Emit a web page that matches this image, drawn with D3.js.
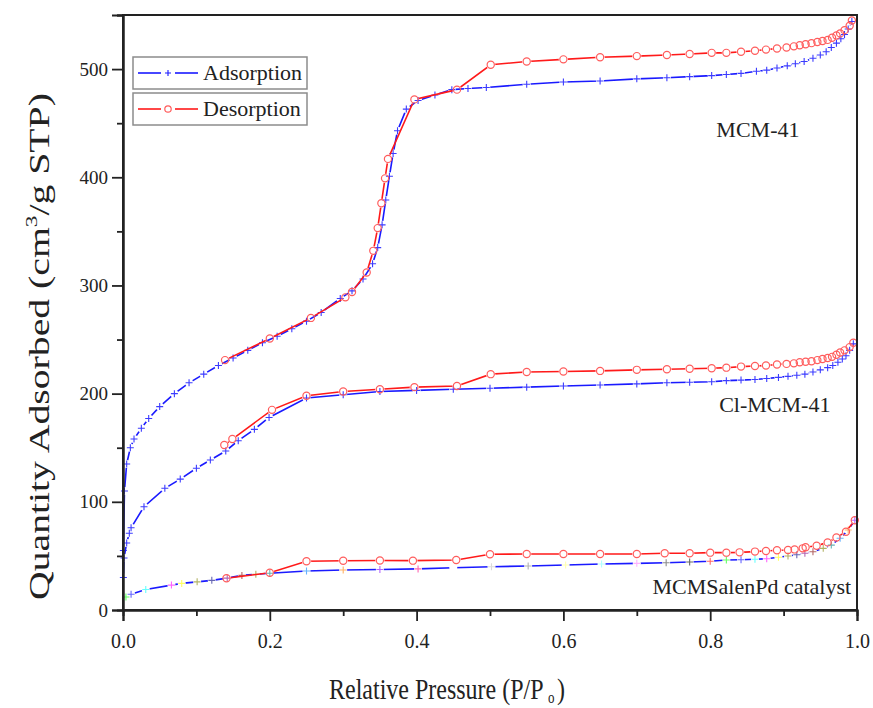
<!DOCTYPE html>
<html>
<head>
<meta charset="utf-8">
<script src="https://cdn.jsdelivr.net/npm/d3@7"></script>
<style>
  body { margin: 0; background: #fff; }
  svg text { font-family: "Liberation Serif", "DejaVu Serif", serif; }
</style>
</head>
<body>
<div id="chart"></div>
<script>
// [P/Po, quantity adsorbed] pairs
const mcmAds = [[0.0005,55],[0.002,110],[0.005,135],[0.01,150],[0.015,158],[0.025,168],[0.035,177],[0.05,188],[0.07,200],[0.09,210],[0.11,218],[0.13,226],[0.15,233],[0.17,240],[0.19,247],[0.21,253],[0.23,260],[0.25,267],[0.27,275],[0.296,288],[0.312,295],[0.327,306],[0.34,320],[0.347,335],[0.353,356],[0.358,379],[0.363,401],[0.368,422],[0.374,443],[0.386,463],[0.402,471],[0.425,476],[0.448,481],[0.47,482],[0.495,483],[0.55,486],[0.60,488],[0.65,489],[0.70,491],[0.741,492],[0.772,493],[0.802,494],[0.822,495],[0.842,496],[0.863,498],[0.877,499],[0.891,501],[0.905,503],[0.916,505],[0.928,507],[0.94,510],[0.95,513],[0.958,516],[0.965,520],[0.972,524],[0.978,528],[0.983,532],[0.988,537],[0.993,544]];
const mcmDes = [[0.993,545],[0.99,540],[0.983,536],[0.977,533],[0.972,531],[0.966,529],[0.96,527],[0.953,526],[0.946,525],[0.938,524],[0.93,523],[0.922,522],[0.914,521],[0.904,520],[0.891,519],[0.876,518],[0.861,517],[0.842,516],[0.822,515],[0.802,515],[0.772,514],[0.741,513],[0.70,512],[0.65,511],[0.60,509],[0.55,507],[0.501,504],[0.455,481],[0.397,472],[0.361,417],[0.357,399],[0.352,376],[0.347,353],[0.341,332],[0.332,312],[0.312,294],[0.303,289],[0.256,270],[0.2,251],[0.139,231]];
const clAds = [[0.0005,30],[0.0014,48],[0.005,62],[0.0086,71],[0.011,76],[0.0286,95.5],[0.057,112.5],[0.078,121],[0.1,131],[0.119,138.6],[0.14,147],[0.157,156.5],[0.179,167],[0.199,178],[0.25,196],[0.3,199],[0.35,202],[0.40,203],[0.45,204],[0.50,205],[0.55,206],[0.60,207],[0.65,208],[0.70,209],[0.741,210],[0.772,210.5],[0.802,211],[0.822,212],[0.842,212.5],[0.861,213],[0.877,214],[0.893,215],[0.906,216],[0.918,217],[0.929,218],[0.94,220],[0.95,222],[0.96,224],[0.967,226],[0.974,229],[0.98,232],[0.985,235],[0.99,240],[0.995,246]];
const clDes = [[0.995,247],[0.99,243],[0.983,240],[0.977,238],[0.972,236],[0.966,234],[0.96,233],[0.953,232],[0.946,231],[0.938,230],[0.93,229.5],[0.922,229],[0.914,228],[0.904,227.5],[0.891,227],[0.876,226],[0.861,225.5],[0.842,225],[0.822,224],[0.802,223.5],[0.772,223],[0.741,222.5],[0.70,222],[0.65,221],[0.60,220.5],[0.55,220],[0.501,218],[0.455,207],[0.397,206],[0.35,204],[0.30,202],[0.25,198],[0.203,185],[0.149,158],[0.138,152.5]];
const salenAds = [[0.004,12],[0.011,14.5],[0.031,19],[0.066,23],[0.08,24.6],[0.101,26],[0.121,27.4],[0.142,29.5],[0.162,32],[0.181,33],[0.2,34],[0.25,36],[0.3,37],[0.35,37.5],[0.402,38],[0.45,39],[0.502,40],[0.552,40.7],[0.603,41.6],[0.652,42.5],[0.70,43.1],[0.74,43.7],[0.772,44.4],[0.80,45],[0.822,46.2],[0.842,46.5],[0.861,46.9],[0.877,47.4],[0.893,48.7],[0.906,49.9],[0.918,51.1],[0.929,52.4],[0.94,53.9],[0.954,57],[0.965,60],[0.977,66.3],[0.988,74],[0.997,83]];
const salenDes = [[0.997,83],[0.985,72.4],[0.972,67],[0.96,62.5],[0.945,59.4],[0.93,58],[0.926,57],[0.915,56],[0.906,55.5],[0.891,55.2],[0.876,54.6],[0.861,54],[0.84,53.3],[0.822,53],[0.80,53],[0.772,52.4],[0.738,52.4],[0.70,51.8],[0.65,51.8],[0.60,51.8],[0.55,51.8],[0.50,51.5],[0.454,46.2],[0.395,45.6],[0.35,45.8],[0.30,45.5],[0.25,45],[0.2,34.5],[0.141,29.3]];

const sampleLabels = ["MCM-41", "Cl-MCM-41", "MCMSalenPd catalyst"];
const legendLabels = ["Adsorption", "Desorption"];
const xTicks = [0, 0.2, 0.4, 0.6, 0.8, 1.0];
const yTicks = [0, 100, 200, 300, 400, 500];

// Origin's colour-increment list, used by the catalyst adsorption symbols
const originColors = ["#000000","#ff0000","#00ff00","#0000ff","#00ffff","#ff00ff","#ffff00","#808000","#000080","#800080","#800000","#808000","#008080","#0080ff","#ff8000","#8000ff","#ff0080","#ffffff","#c0c0c0","#808080","#ffff80","#80ffff","#ff80ff","#404040"];

const W = 873, H = 708;
const margin = { top: 15, right: 16, bottom: 98, left: 123 };
const plotW = W - margin.left - margin.right;
const plotH = H - margin.top - margin.bottom;
const FONT = "Liberation Serif";

const svg = d3.select("#chart").append("svg").attr("width", W).attr("height", H);
svg.append("rect").attr("width", W).attr("height", H).attr("fill", "#fff");
const defs = svg.append("defs");
const g = svg.append("g").attr("transform", `translate(${margin.left},${margin.top})`);

const x = d3.scaleLinear().domain([0, 1]).range([0, plotW]);
const y = d3.scaleLinear().domain([0, 550]).range([plotH, 0]);

const BLUE = "#1a1aff", RED = "#ff1a1a";

// Origin leaves a gap in the line round each symbol, done here with a mask per series
let maskId = 0;
function drawSeries(data, color, symbol, gap, symColor) {
    const id = "gap" + (maskId++);
    const mask = defs.append("mask").attr("id", id).attr("maskUnits", "userSpaceOnUse")
        .attr("x", -10).attr("y", -10).attr("width", plotW + 20).attr("height", plotH + 20);
    mask.append("rect").attr("x", -10).attr("y", -10).attr("width", plotW + 20).attr("height", plotH + 20).attr("fill", "#fff");
    mask.selectAll("circle").data(data).enter().append("circle")
        .attr("cx", d => x(d[0])).attr("cy", d => y(d[1])).attr("r", gap).attr("fill", "#000");

    const line = d3.line().x(d => x(d[0])).y(d => y(d[1]));
    g.append("path").datum(data).attr("d", line).attr("fill", "none")
        .attr("stroke", color).attr("stroke-width", 1.6).attr("mask", `url(#${id})`);

    if (symbol === "plus") {
        g.append("g").selectAll("path").data(data).enter().append("path")
            .attr("d", d => { const cx = x(d[0]), cy = y(d[1]); return `M${cx-3.5},${cy}H${cx+3.5}M${cx},${cy-3.5}V${cy+3.5}`; })
            .attr("stroke", (d, i) => symColor ? symColor(i) : color).attr("stroke-width", 1.1)
            .attr("opacity", symColor ? 0.6 : 0.85);
    } else {
        g.append("g").selectAll("circle").data(data).enter().append("circle")
            .attr("cx", d => x(d[0])).attr("cy", d => y(d[1])).attr("r", 3.6)
            .attr("fill", "none").attr("stroke", "#ff5c5c").attr("stroke-width", 1.2);
    }
}

drawSeries(mcmAds, BLUE, "plus", 4);
drawSeries(mcmDes, RED, "circle", 4.6);
drawSeries(clAds, BLUE, "plus", 4);
drawSeries(clDes, RED, "circle", 4.6);
drawSeries(salenAds, BLUE, "plus", 4, i => originColors[(i + 2) % originColors.length]);
drawSeries(salenDes, RED, "circle", 4.6);

// frame and axes
g.append("rect").attr("width", plotW).attr("height", plotH).attr("fill", "none")
    .attr("stroke", "#222").attr("stroke-width", 2);

const xAxis = g.append("g").attr("transform", `translate(0,${plotH})`)
    .call(d3.axisBottom(x).tickValues(xTicks).tickFormat(d3.format(".1f")).tickSize(11).tickPadding(13));
const xMinor = g.append("g").attr("transform", `translate(0,${plotH})`)
    .call(d3.axisBottom(x).tickValues([0.1, 0.3, 0.5, 0.7, 0.9]).tickFormat("").tickSize(6));
const yAxis = g.append("g")
    .call(d3.axisLeft(y).tickValues(yTicks).tickSize(11).tickPadding(4));
const yMinor = g.append("g")
    .call(d3.axisLeft(y).tickValues([50, 150, 250, 350, 450, 550]).tickFormat("").tickSize(6));

[xAxis, xMinor, yAxis, yMinor].forEach(a => {
    a.attr("font-family", FONT);
    a.select(".domain").attr("stroke", "#222").attr("stroke-width", 2);
    a.selectAll(".tick line").attr("stroke", "#222").attr("stroke-width", 1.8);
    a.selectAll(".tick text").attr("fill", "#222").style("font-family", FONT).style("font-size", "19px");
});
xAxis.selectAll(".tick text").style("font-size", "20px");

// sample labels
g.append("text").attr("x", x(0.865)).attr("y", y(437)).attr("text-anchor", "middle")
    .style("font-size", "22px").attr("fill", "#222").text(sampleLabels[0]);
g.append("text").attr("x", x(0.888)).attr("y", y(183)).attr("text-anchor", "middle")
    .style("font-size", "22px").attr("fill", "#222").text(sampleLabels[1]);
g.append("text").attr("x", x(0.992)).attr("y", y(15)).attr("text-anchor", "end")
    .style("font-size", "22px").attr("fill", "#222").text(sampleLabels[2]);

// legend: two separate boxes
const legendColors = [BLUE, RED];
const legendY = [57, 93];
legendLabels.forEach((label, i) => {
    const lg = svg.append("g").attr("transform", `translate(133,${legendY[i]})`);
    lg.append("rect").attr("width", 174).attr("height", 32).attr("fill", "#fff")
        .attr("stroke", "#8c8c8c").attr("stroke-width", 1.5);
    lg.append("line").attr("x1", 5).attr("x2", 28).attr("y1", 16).attr("y2", 16).attr("stroke", legendColors[i]).attr("stroke-width", 1.6);
    lg.append("line").attr("x1", 42).attr("x2", 65).attr("y1", 16).attr("y2", 16).attr("stroke", legendColors[i]).attr("stroke-width", 1.6);
    if (i === 0) {
        lg.append("path").attr("d", "M32,16H38M35,13V19").attr("stroke", BLUE).attr("stroke-width", 1.1);
    } else {
        lg.append("circle").attr("cx", 35).attr("cy", 16).attr("r", 3.2).attr("fill", "none").attr("stroke", "#ff5c5c").attr("stroke-width", 1.2);
    }
    lg.append("text").attr("x", 70).attr("y", 23).style("font-size", "22px").attr("fill", "#222").text(label);
});

// axis titles; the source picture is stretched vertically, so the titles are too
const xt = svg.append("text").attr("transform", "translate(329,699) scale(1,1.25)")
    .style("font-size", "24px").attr("fill", "#222");
xt.append("tspan").attr("x", 0).attr("y", 0).text("Relative Pressure (P/P");
xt.append("tspan").attr("x", 219).attr("y", 3).style("font-size", "13px").text("o");
xt.append("tspan").attr("x", 228).attr("y", 0).text(")");

const yt = svg.append("text").attr("transform", "translate(49,600) rotate(-90) scale(1.37,1)")
    .style("font-size", "29px").attr("fill", "#222");
yt.append("tspan").text("Quantity Adsorbed (cm");
yt.append("tspan").attr("dy", -12).style("font-size", "17px").text("3");
yt.append("tspan").attr("dy", 12).text("/g STP)");
</script>
</body>
</html>
